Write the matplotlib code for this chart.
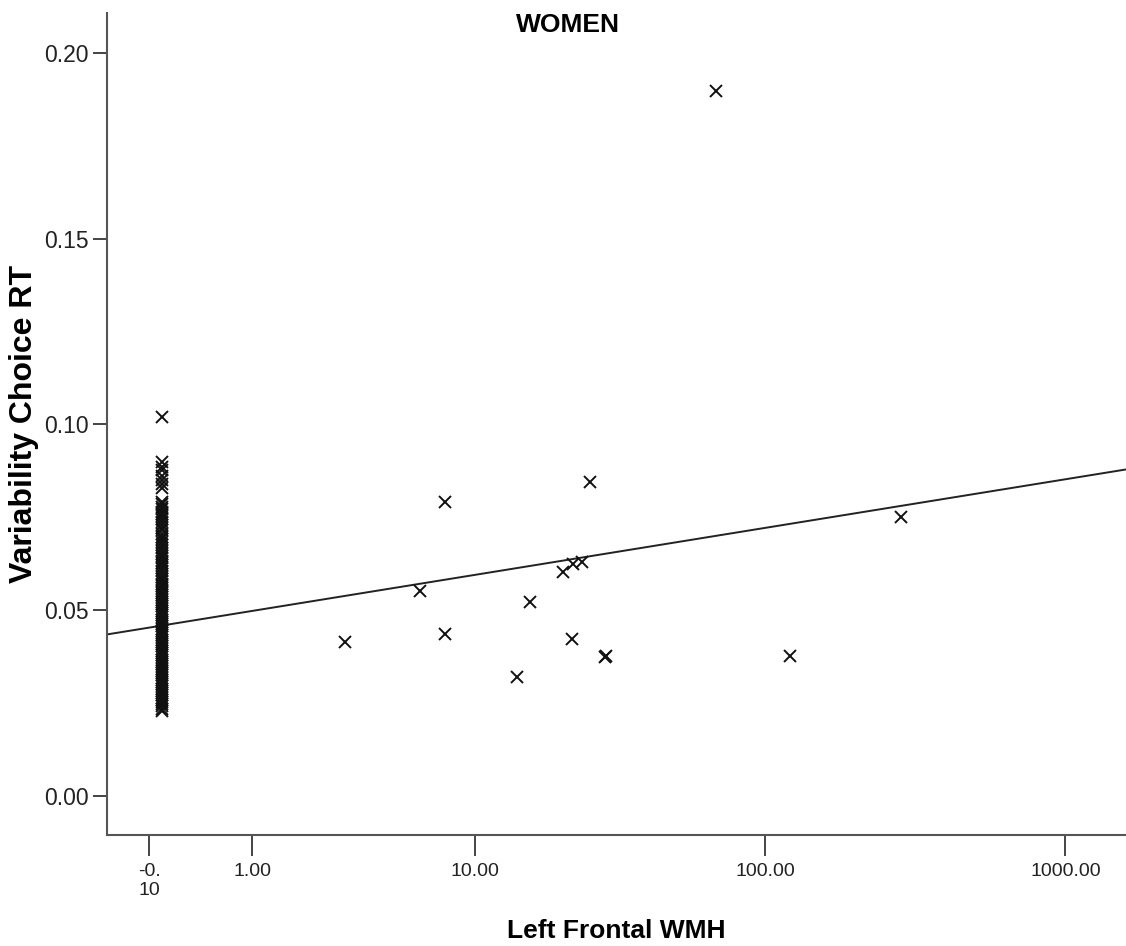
import numpy as np
import matplotlib
matplotlib.use("Agg")
from matplotlib import pyplot as plt

plt.rcParams['font.family'] = ['Liberation Sans', 'DejaVu Sans']

# women with some left frontal WMH
wmh = [68.2, 7.75, 25.4, 283.0, 6.19, 15.7, 7.75, 3.05, 14.1,
       20.5, 22.2, 23.8, 22.1, 28.6, 28.9, 120.6]
rt = [0.190, 0.0790, 0.0844, 0.0750, 0.0552, 0.0521, 0.0434, 0.0413, 0.0319,
      0.0602, 0.0624, 0.0629, 0.0422, 0.0374, 0.0376, 0.0376]

# women with zero WMH (the vertical stack)
zero_rt = [0.102, 0.0898, 0.0885, 0.0876, 0.0862, 0.0850, 0.0840, 0.0828,
           0.0790, 0.0785, 0.0778, 0.0772, 0.0765, 0.0760, 0.0752, 0.0745,
           0.0738, 0.0730, 0.0722, 0.0715, 0.0706, 0.0698, 0.0690, 0.0683,
           0.0675, 0.0668, 0.0660, 0.0652, 0.0645, 0.0640, 0.0633, 0.0626,
           0.0620, 0.0612, 0.0605, 0.0598, 0.0590, 0.0584, 0.0578, 0.0571,
           0.0565, 0.0558, 0.0552, 0.0546, 0.0540, 0.0534, 0.0528, 0.0522,
           0.0516, 0.0510, 0.0504, 0.0498, 0.0492, 0.0486, 0.0480, 0.0474,
           0.0468, 0.0462, 0.0456, 0.0450, 0.0444, 0.0438, 0.0432, 0.0426,
           0.0420, 0.0414, 0.0408, 0.0402, 0.0396, 0.0390, 0.0384, 0.0378,
           0.0372, 0.0366, 0.0360, 0.0354, 0.0348, 0.0342, 0.0336, 0.0330,
           0.0324, 0.0318, 0.0312, 0.0306, 0.0300, 0.0294, 0.0288, 0.0282,
           0.0276, 0.0270, 0.0264, 0.0258, 0.0252, 0.0246, 0.0240, 0.0234,
           0.0228]
zero_wmh = [0.0] * len(zero_rt)

# fit line on the safe-log axis: rt = b0 + b1 * safelog(wmh)
b0 = 0.0458
b1 = 0.01314

x_ticks = [-0.1, 1, 10, 100, 1000]
x_ticklabels = ["-0.\n10", "1.00", "10.00", "100.00", "1000.00"]
y_ticks = [0.0, 0.05, 0.10, 0.15, 0.20]
y_ticklabels = ["0.00", "0.05", "0.10", "0.15", "0.20"]


def safelog(v):
    v = np.asarray(v, dtype=float)
    return np.sign(v) * np.log10(1 + np.abs(v))


def safelog_inv(v):
    v = np.asarray(v, dtype=float)
    return np.sign(v) * (10 ** np.abs(v) - 1)


fig = plt.figure(figsize=(11.26, 9.46), dpi=100)
ax = fig.add_axes([0.095, 0.1173, 0.905, 0.869])
ax.set_xscale('function', functions=(safelog, safelog_inv))

xmin, xmax = -0.52, 1591
ax.set_xlim(xmin, xmax)
ax.set_ylim(-0.01065, 0.2109)

fx = np.linspace(safelog(xmin), safelog(xmax), 200)
ax.plot(safelog_inv(fx), b0 + b1 * fx, color='#222222', lw=1.4, zorder=2)

ax.plot(zero_wmh, zero_rt, ls='none', marker='x', ms=8, mew=1.4,
        color='#111111', zorder=3)
ax.plot(wmh, rt, ls='none', marker='x', ms=8, mew=1.4,
        color='#111111', zorder=3)

ax.set_xticks(x_ticks)
ax.set_xticklabels(x_ticklabels)
ax.set_yticks(y_ticks)
ax.set_yticklabels(y_ticklabels)
ax.minorticks_off()

ax.tick_params(axis='x', length=15, width=1.4, color='#444444',
               labelsize=14, labelcolor='#222222', pad=5)
ax.tick_params(axis='y', length=10, width=1.4, color='#444444',
               labelsize=16.5, labelcolor='#222222', pad=3)

for s in ['top', 'right']:
    ax.spines[s].set_visible(False)
for s in ['left', 'bottom']:
    ax.spines[s].set_color('#555555')
    ax.spines[s].set_linewidth(1.5)

fig.text(568 / 1126, 1 - 25 / 946, "WOMEN", ha='center', va='center',
         fontsize=19, fontweight='bold')
fig.text(616 / 1126, 1 - 931 / 946, "Left Frontal WMH", ha='center',
         va='center', fontsize=19, fontweight='bold')
fig.text(24 / 1126, 1 - 424 / 946, "Variability Choice RT", ha='center',
         va='center', rotation=90, fontsize=23, fontweight='bold')

fig.savefig("out.png", dpi=100, facecolor='white')
